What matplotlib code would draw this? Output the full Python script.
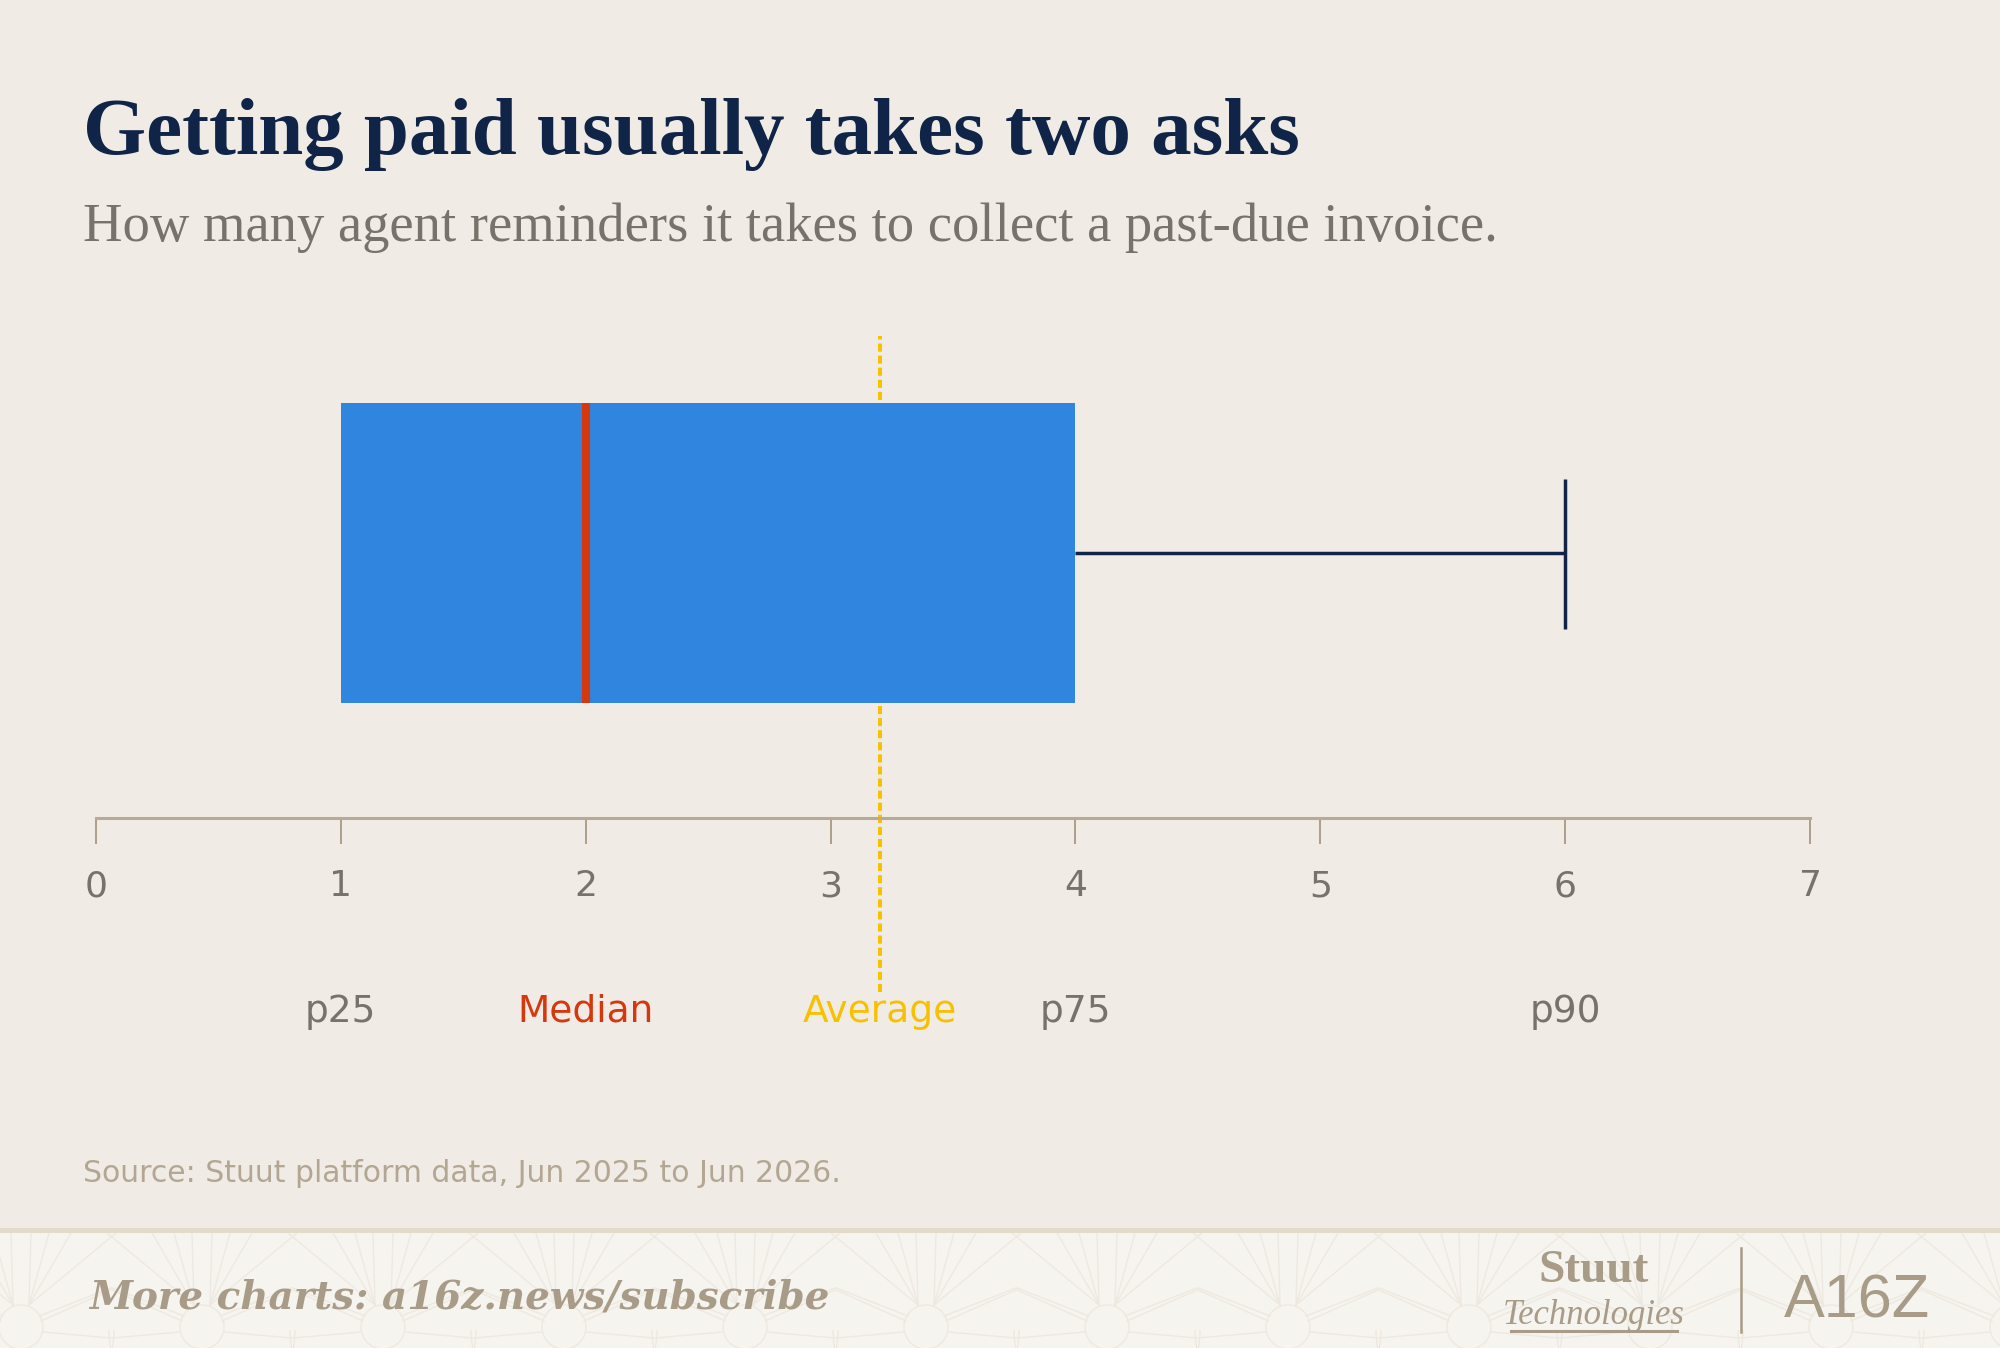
import matplotlib
matplotlib.use("Agg")
import matplotlib.pyplot as plt
from matplotlib.patches import Rectangle, Circle, Arc
from matplotlib.lines import Line2D

# ---- data ----
p25 = 1
median = 2
average = 3.2
p75 = 4
p90 = 6
axis_ticks = [0, 1, 2, 3, 4, 5, 6, 7]
stat_labels = ["p25", "Median", "Average", "p75", "p90"]
stat_values = [p25, median, average, p75, p90]

title = "Getting paid usually takes two asks"
subtitle = "How many agent reminders it takes to collect a past-due invoice."
source = "Source: Stuut platform data, Jun 2025 to Jun 2026."
footer = "More charts: a16z.news/subscribe"

# ---- colours ----
BG = "#f0ece5"
FOOT_BG = "#f6f4ef"
NAVY = "#0f2446"
BLUE = "#3085de"
RED = "#d6380e"
GOLD = "#f7c000"
GRAY = "#77736b"
TAN = "#a89c88"
SPINE = "#b8aa96"
PATTERN = "#eee9e0"

W, H = 2000, 1348
fig = plt.figure(figsize=(W / 100, H / 100), dpi=100, facecolor=BG)

def fx(x):
    return x / W

def fy(y):
    return 1 - y / H

# ---- footer band with faint decorative pattern ----
fax = fig.add_axes([0, 0, 1, fy(1233)], zorder=0)
fax.set_facecolor(FOOT_BG)
fax.set_xlim(0, W)
fax.set_ylim(H, 1233)
fax.axis("off")
fax.add_patch(Rectangle((0, 1233), W, H - 1233, facecolor=FOOT_BG, edgecolor="none"))
period = 181
cx = 21 - period
while cx < W + period:
    lw = 1.0
    fax.add_patch(Circle((cx, 1327), 22, fill=False, edgecolor=PATTERN, lw=lw))
    fax.add_patch(Arc((cx, 1330), 186, 190, theta1=0, theta2=180, edgecolor=PATTERN, lw=lw))
    for s in (-1, 1):
        for top in (10, 28, 50, 95):
            fax.plot([cx + s * 8, cx + s * top], [1305, 1233], color=PATTERN, lw=lw)
        fax.plot([cx + s * 18, cx + s * 90], [1316, 1288], color=PATTERN, lw=lw)
        fax.plot([cx + s * 20, cx + s * 90], [1321, 1290], color=PATTERN, lw=lw)
        fax.plot([cx + s * 22, cx + s * 90], [1332, 1338], color=PATTERN, lw=lw)
    cx += period
fig.patches.append(Rectangle((0, fy(1233)), 1, 5 / H, transform=fig.transFigure,
                             facecolor="#e3dbca", edgecolor="none", zorder=1))

# ---- main axes: x 0..7 mapped to px 95.7..1810, axis line at px 817.6 ----
ax_left, ax_right = 95.7, 1810.3
ax_bot, ax_top = 817.6, 300.0
ax = fig.add_axes([fx(ax_left), fy(ax_bot), (ax_right - ax_left) / W, (ax_bot - ax_top) / H],
                  zorder=2)
ax.set_facecolor("none")
ax.set_xlim(0, 7)
ax.set_ylim(0, 1)

hpx = ax_bot - ax_top
def ay(ypx):
    return (ax_bot - ypx) / hpx

yc = ay(553)
bh = 300 / hpx

# box
ax.barh(yc, p75 - p25, left=p25, height=bh, color=BLUE, zorder=2)
# median
ax.plot([median, median], [yc - bh / 2, yc + bh / 2], color=RED, lw=5.8,
        solid_capstyle="butt", zorder=3)
# whisker
ax.plot([p75, p90], [yc, yc], color=NAVY, lw=2.5, solid_capstyle="butt", zorder=3)
ax.plot([p90, p90], [ay(629), ay(479)], color=NAVY, lw=2.5, solid_capstyle="butt", zorder=3)
# average dashed line
ax.plot([average, average], [ay(992), ay(336)], color=GOLD, lw=2.9,
        linestyle=(0, (2, 1)), clip_on=False, zorder=1)

# axis styling
for s in ["top", "right", "left"]:
    ax.spines[s].set_visible(False)
ax.spines["bottom"].set_color(SPINE)
ax.spines["bottom"].set_linewidth(2.2)
ax.set_yticks([])
ax.set_xticks(axis_ticks)
ax.set_xticklabels([str(t) for t in axis_ticks])
ax.tick_params(axis="x", direction="out", length=18.7, width=1.44, color="#aea18c",
               pad=18.5, labelsize=26, labelcolor=GRAY)
for lab in ax.get_xticklabels():
    lab.set_fontfamily("DejaVu Sans")

# stat labels row
label_colors = [GRAY, RED, GOLD, GRAY, GRAY]
for lab, val, col in zip(stat_labels, stat_values, label_colors):
    ax.text(val, ay(1022), lab, transform=ax.get_xaxis_transform(), ha="center",
            va="baseline", fontsize=27, color=col, family="DejaVu Sans", clip_on=False)

# titles
fig.text(fx(83), fy(154), title, fontsize=58.3, fontweight="bold", family="Liberation Serif",
         color=NAVY, va="baseline", ha="left")
fig.text(fx(83), fy(241), subtitle, fontsize=39.3, family="Liberation Serif",
         color=GRAY, va="baseline", ha="left")
fig.text(fx(83), fy(1182), source, fontsize=21.5, family="DejaVu Sans",
         color="#b3a793", va="baseline", ha="left")

fig.text(fx(89), fy(1308), footer, fontsize=28, fontweight="bold", fontstyle="italic",
         family="DejaVu Serif", color=TAN, va="baseline", ha="left", zorder=5)

# logos
fig.text(fx(1594), fy(1282), "Stuut", fontsize=34, family="Liberation Serif",
         fontweight="bold", color=TAN, va="baseline", ha="center", zorder=5)
fig.text(fx(1594), fy(1324), "Technologies", fontsize=25, family="Liberation Serif",
         fontstyle="italic", color=TAN, va="baseline", ha="center", zorder=5)
fig.add_artist(Line2D([fx(1511), fx(1677)], [fy(1331), fy(1331)], transform=fig.transFigure,
                      color=TAN, lw=2.2, zorder=5))
fig.add_artist(Line2D([fx(1741), fx(1741)], [fy(1248), fy(1332)], transform=fig.transFigure,
                      color=TAN, lw=1.8, zorder=5))
fig.text(fx(1857), fy(1317), "A16Z", fontsize=44, family="Liberation Sans",
         color=TAN, va="baseline", ha="center", zorder=5)

fig.savefig("out.png", dpi=100, facecolor=BG)
